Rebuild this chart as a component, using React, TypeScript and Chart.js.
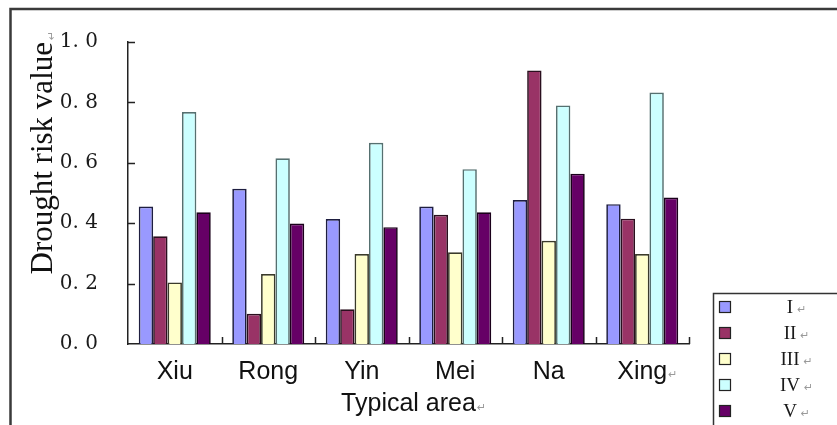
import { useEffect, useRef } from 'react';
import { Chart, registerables } from 'chart.js';

Chart.register(...registerables);

// Typical areas along the x axis
const areas = ['Xiu', 'Rong', 'Yin', 'Mei', 'Na', 'Xing'];

// Drought risk value per grade
const gradeLabels = ['I', 'II', 'III', 'IV', 'V'];
const gradeI = [0.455, 0.514, 0.414, 0.455, 0.477, 0.463];
const gradeII = [0.357, 0.1, 0.115, 0.428, 0.906, 0.415];
const gradeIII = [0.204, 0.232, 0.298, 0.304, 0.342, 0.298];
const gradeIV = [0.768, 0.615, 0.666, 0.579, 0.79, 0.833];
const gradeV = [0.436, 0.399, 0.387, 0.436, 0.564, 0.485];

const yTickValues = [0, 0.2, 0.4, 0.6, 0.8, 1.0];

const fills = ['#9999ff', '#993366', '#ffffcc', '#ccffff', '#660066'];
const edges = ['#1e1e40', '#2a0f1e', '#3a3a2a', '#557070', '#1a001a'];

const RETURN_MARK = '\u21B5';

function drawReturn(ctx: CanvasRenderingContext2D, x: number, y: number, rotate = false) {
  ctx.save();
  ctx.font = '11px "DejaVu Sans"';
  ctx.fillStyle = '#9a9a9a';
  ctx.textAlign = 'left';
  ctx.textBaseline = 'alphabetic';
  ctx.translate(x, y);
  if (rotate) ctx.rotate(-Math.PI / 2);
  ctx.fillText(RETURN_MARK, 0, 0);
  ctx.restore();
}

const decor = {
  id: 'decor',
  beforeDraw(chart: any) {
    const ctx: CanvasRenderingContext2D = chart.ctx;
    ctx.save();
    ctx.fillStyle = '#ffffff';
    ctx.fillRect(0, 0, chart.width, chart.height);
    // outer frame (left and top edges)
    ctx.strokeStyle = '#3a3a3a';
    ctx.lineWidth = 2.5;
    ctx.beginPath();
    ctx.moveTo(10.5, chart.height + 4);
    ctx.lineTo(10.5, 9);
    ctx.lineTo(chart.width + 4, 9);
    ctx.stroke();
    ctx.restore();
  },
  afterDraw(chart: any) {
    const ctx: CanvasRenderingContext2D = chart.ctx;
    const xs = chart.scales.x;
    const ys = chart.scales.y;
    const area = chart.chartArea;
    ctx.save();

    // inward tick marks
    ctx.strokeStyle = '#222';
    ctx.lineWidth = 1.5;
    ctx.beginPath();
    yTickValues.slice(1).forEach((v) => {
      const py = Math.round(ys.getPixelForValue(v)) + 0.5;
      ctx.moveTo(area.left, py);
      ctx.lineTo(area.left + 7, py);
    });
    areas.forEach((_, i) => {
      const px = Math.round(xs.getPixelForValue(i + 0.5)) + 0.5;
      ctx.moveTo(px, area.bottom);
      ctx.lineTo(px, area.bottom - 7);
    });
    ctx.stroke();

    // legend box
    ctx.strokeStyle = '#333';
    ctx.lineWidth = 1.5;
    ctx.strokeRect(713.5, 293.5, 200, 200);
    gradeLabels.forEach((label, i) => {
      const cy = 307 + i * 26;
      ctx.fillStyle = fills[i];
      ctx.fillRect(719.5, cy - 5.5, 11, 11);
      ctx.strokeStyle = '#222';
      ctx.lineWidth = 1.2;
      ctx.strokeRect(719.5, cy - 5.5, 11, 11);
      ctx.font = '19px "Liberation Serif"';
      ctx.fillStyle = '#1a1a1a';
      ctx.textAlign = 'center';
      ctx.textBaseline = 'middle';
      ctx.fillText(label, 790, cy + 1);
      const w = ctx.measureText(label).width;
      drawReturn(ctx, 790 + w / 2 + 4, cy + 6);
    });

    // paragraph marks after the last area label, the axis titles
    ctx.font = '25px "Liberation Sans"';
    const lastX = xs.getPixelForValue(areas.length - 1);
    const lastW = ctx.measureText(areas[areas.length - 1]).width;
    drawReturn(ctx, lastX + lastW / 2 + 1, xs.top + 34);
    const titleW = ctx.measureText('Typical area').width;
    drawReturn(ctx, (area.left + area.right) / 2 + titleW / 2 + 1, 411);
    drawReturn(ctx, 55, area.top - 2, true);

    ctx.restore();
  },
};

export default function App() {
  const canvasRef = useRef<HTMLCanvasElement | null>(null);

  useEffect(() => {
    const canvas = canvasRef.current;
    if (!canvas) return;
    const series = [gradeI, gradeII, gradeIII, gradeIV, gradeV];
    const chart = new Chart(canvas, {
      type: 'bar',
      data: {
        labels: areas,
        datasets: series.map((values, i) => ({
          label: gradeLabels[i],
          data: values,
          backgroundColor: fills[i],
          borderColor: edges[i],
          borderWidth: 1.7,
          categoryPercentage: 0.77,
          barPercentage: 1,
        })),
      },
      options: {
        responsive: false,
        animation: false,
        layout: { padding: { left: 10, top: 38, right: 148, bottom: 0 } },
        plugins: {
          legend: { display: false },
          tooltip: { enabled: false },
        },
        scales: {
          x: {
            grid: { display: false, drawTicks: false },
            border: { display: true, color: '#222', width: 1.5 },
            ticks: {
              font: { family: 'Liberation Sans', size: 25 },
              color: '#111',
              padding: 13,
            },
            title: {
              display: true,
              text: 'Typical area',
              font: { family: 'Liberation Sans', size: 25 },
              color: '#111',
              padding: { top: 0, bottom: 6 },
            },
            afterFit(scale: any) {
              scale.height = 81;
            },
          },
          y: {
            min: 0,
            max: 1,
            afterBuildTicks(scale: any) {
              scale.ticks = yTickValues.map((v) => ({ value: v }));
            },
            grid: { display: false, drawTicks: false },
            border: { display: true, color: '#222', width: 1.5 },
            ticks: {
              font: { family: 'DejaVu Serif', size: 20 },
              color: '#1a1a1a',
              padding: 30,
              callback: (v: any) => Number(v).toFixed(1).replace('.', '. '),
            },
            title: {
              display: true,
              text: 'Drought risk value',
              align: 'end',
              font: { family: 'Liberation Serif', size: 31 },
              color: '#111',
              padding: { top: 15, bottom: 0 },
            },
            afterFit(scale: any) {
              scale.width = 118;
            },
          },
        },
      },
      plugins: [decor],
    });
    return () => chart.destroy();
  }, []);

  return (
    <div style={{ position: 'absolute', left: 0, top: 0, width: 837, height: 425, overflow: 'hidden' }}>
      <canvas ref={canvasRef} width={837} height={425} style={{ display: 'block' }} />
    </div>
  );
}
